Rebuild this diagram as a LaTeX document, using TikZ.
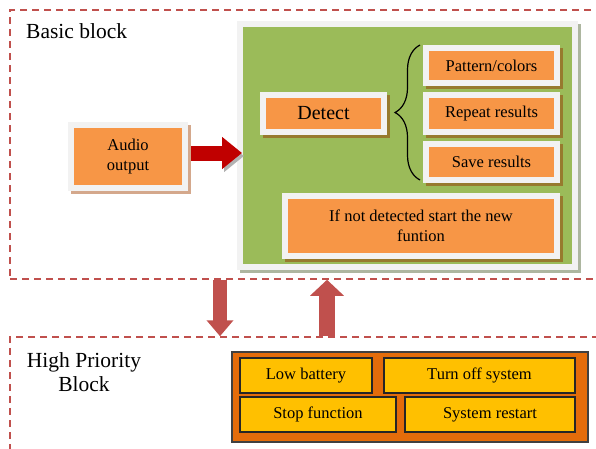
\documentclass[tikz,border=0pt]{standalone}
\usepackage{fontspec}
\setmainfont{Liberation Serif}
\usetikzlibrary{arrows.meta,decorations.pathreplacing}

\definecolor{dashred}{HTML}{C0504D}
\definecolor{boxorange}{HTML}{F79646}
\definecolor{framegray}{HTML}{F2F2F2}
\definecolor{panelgreen}{HTML}{9BBB59}
\definecolor{panelshadow}{HTML}{ADB6A0}
\definecolor{boxshadow}{HTML}{977A2E}
\definecolor{tanshadow}{HTML}{D4A88C}
\definecolor{arrowred}{HTML}{C00000}
\definecolor{darkorange}{HTML}{E46C0A}
\definecolor{gold}{HTML}{FFC000}

\tikzset{
	region/.style={draw=dashred, line width=1.5pt, dash pattern=on 7pt off 5pt, minimum width=600pt, inner sep=0pt},
	title/.style={font=\fontsize{21.5}{24}\selectfont, inner sep=0pt},
	framed/.style={fill=boxorange, draw=framegray, line width=6pt, inner sep=0pt, align=center,
		font=\fontsize{16.5}{20.5}\selectfont,
		preaction={draw=#1, fill=#1, transform canvas={shift={(3pt,-3pt)}}}},
	framed/.default=boxshadow,
	task/.style={fill=gold, draw=black!85, line width=1.5pt, inner sep=0pt, font=\fontsize{16.5}{20}\selectfont},
	linkarrow/.style={draw=dashred, line width=#1}
}

\begin{document}
\begin{tikzpicture}[x=1pt, y=-1pt]
	\path[use as bounding box] (0,0) rectangle (596,448);
	\clip (0,0) rectangle (596,448);

	\node (basic) at (310,144.5) [region, minimum height=269pt] {};
	\node (hp) at (310,403.5) [region, minimum height=133pt] {};
	\node (basictitle) at (26,38) [title, anchor=base west] {Basic block};
	\node (hptitle) at (84,372) [title, align=center] {High Priority\\Block};

	\node (audio) at (128,156.5) [framed=tanshadow, minimum width=114pt, minimum height=63pt] {Audio\\output};
	\node (panel) at (407.5,145.5) [framed=panelshadow, fill=panelgreen, minimum width=335pt, minimum height=243pt] {};
	\node (detect) at (323.5,113.5) [framed, minimum width=121pt, minimum height=37pt, font=\fontsize{20}{24}\selectfont] {Detect};
	\node (pattern) at (491.5,65.5) [framed, minimum width=131pt, minimum height=35pt] {Pattern/colors};
	\node (repeat) at (491.5,113.5) [framed, minimum width=131pt, minimum height=37pt] {Repeat results};
	\node (save) at (491.5,162) [framed, minimum width=131pt, minimum height=36pt] {Save results};
	\node (ifnot) at (421,226) [framed, minimum width=272pt, minimum height=60pt] {If not detected start the new\\funtion};

	\coordinate (bracetop) at (420,45);
	\coordinate (bracebot) at (420,180);
	\draw [decorate, decoration={brace, amplitude=25pt}, line width=1.2pt] (bracebot) -- (bracetop);

	\coordinate (arrowy) at (0,153);
	\draw [line width=15pt, draw=arrowred, shorten <=3pt, shorten >=-5pt,
		-{Triangle[length=20pt, width=31pt]},
		preaction={draw=black!30, transform canvas={shift={(2pt,-3pt)}}}] (audio.east |- arrowy) -- (panel.west |- arrowy);

	\node (priority) at (410,397) [fill=darkorange, draw=black!75, line width=1.5pt, minimum width=356pt, minimum height=90pt] {};
	\node (lowbat) at (306,375.5) [task, minimum width=132pt, minimum height=35pt] {Low battery};
	\node (turnoff) at (479.5,375.5) [task, minimum width=191pt, minimum height=35pt] {Turn off system};
	\node (stopfn) at (318,414.5) [task, minimum width=156pt, minimum height=35pt] {Stop function};
	\node (restart) at (490,414.5) [task, minimum width=170pt, minimum height=35pt] {System restart};

	\coordinate (downx) at (220,0);
	\coordinate (upx) at (327,0);
	\draw [linkarrow=14pt, -{Triangle[length=16pt, width=26pt]}] (basic.south -| downx) -- (hp.north -| downx);
	\draw [linkarrow=16pt, -{Triangle[length=16pt, width=33pt]}] (hp.north -| upx) -- (basic.south -| upx);
\end{tikzpicture}
\end{document}
